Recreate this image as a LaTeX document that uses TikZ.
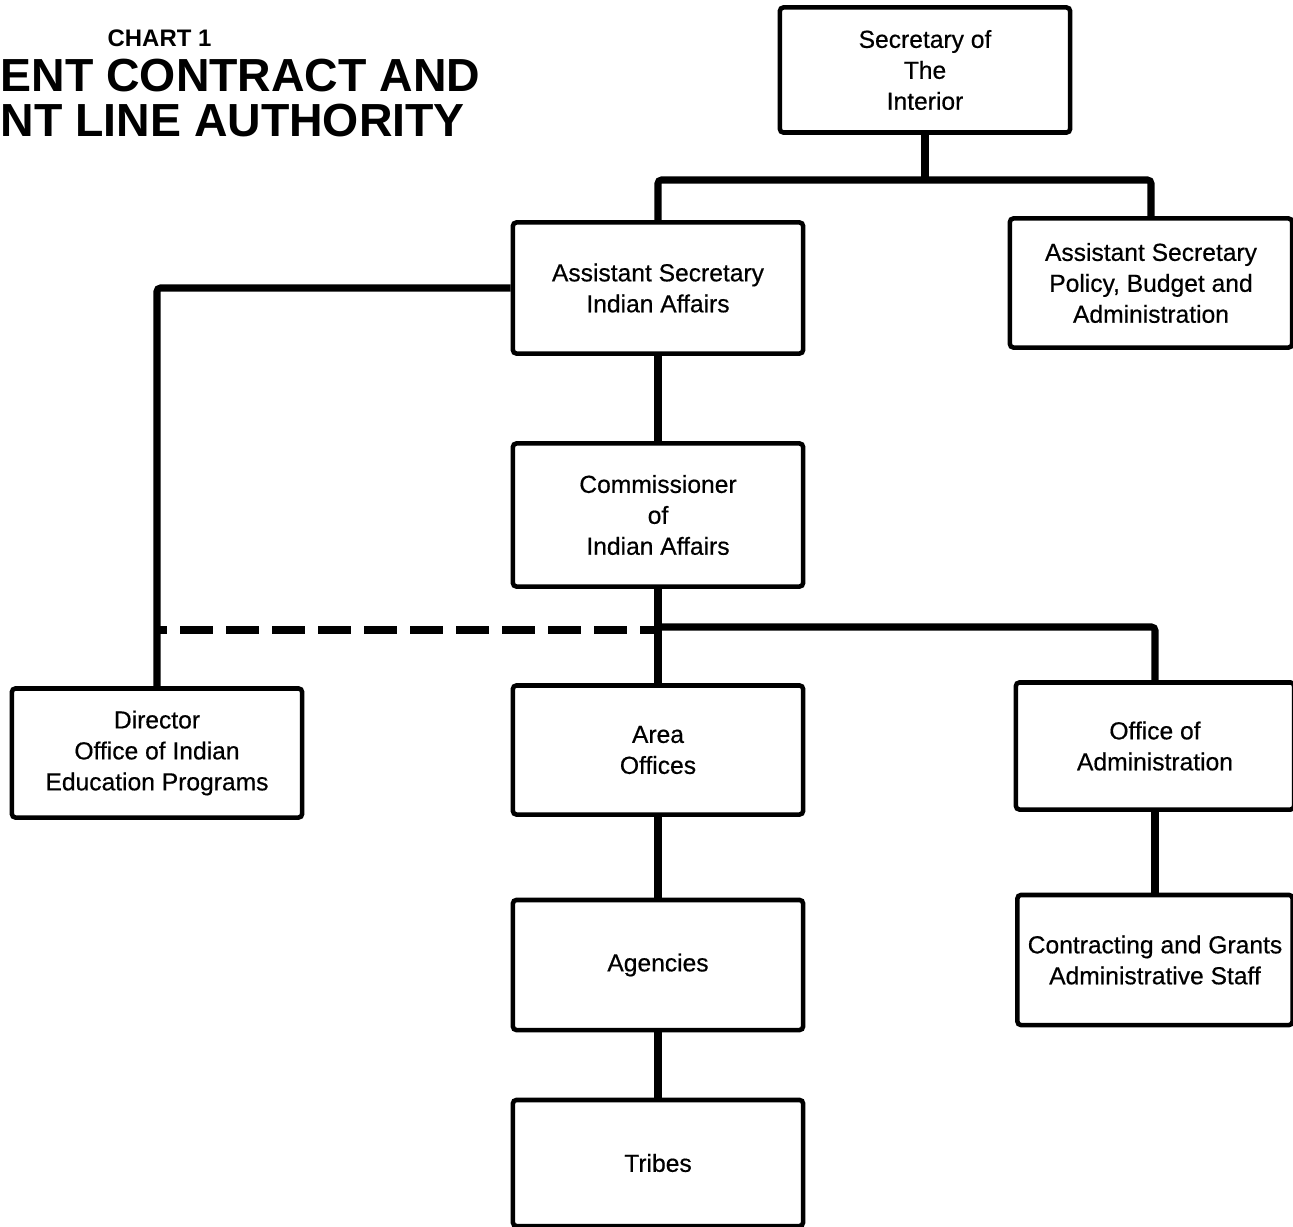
\documentclass[tikz,border=0pt]{standalone}
\usepackage{fontspec}
\setmainfont{Liberation Sans}
\newfontfamily\boxfont[FakeBold=0.5]{Liberation Sans}
\usetikzlibrary{positioning}

\tikzset{
  orgbox/.style={draw, line width=1.3pt, rounded corners=1pt, align=center,
    minimum width=2.9cm, minimum height=1.29cm, inner sep=0pt,
    font=\boxfont\fontsize{7}{8.8}\selectfont},
  orgline/.style={line width=2pt, rounded corners=1pt},
  staffline/.style={line width=2pt, dash pattern=on 0.33cm off 0.13cm, dash phase=0.23cm},
}

\begin{document}
\begin{tikzpicture}[x=0.01cm, y=0.01cm]
                \useasboundingbox (0,0) rectangle (1293,1226);

                % Title
                \node[font=\bfseries\fontsize{6.8}{8}\selectfont, anchor=base west, inner sep=0pt] (chart) at (107,1179) {CHART 1};
                \node[font=\bfseries\fontsize{13.2}{15}\selectfont, anchor=base west, inner sep=0pt] (titleA) at (0,1134) {ENT CONTRACT AND};
                \node[font=\bfseries\fontsize{13.2}{15}\selectfont, anchor=base west, inner sep=0pt] (titleB) at (0,1089) {NT LINE AUTHORITY};

                % Boxes
                \node[orgbox, minimum height=1.25cm] (sec) at (925,1156) {Secretary of\\The\\Interior};
                \node[orgbox, minimum height=1.31cm] (iaf) at (658,938) {Assistant Secretary\\Indian Affairs};
                \node[orgbox, minimum width=2.82cm] (pba) at (1151,943) {Assistant Secretary\\Policy, Budget and\\Administration};
                \node[orgbox, minimum height=1.43cm] (com) at (658,711) {Commissioner\\of\\Indian Affairs};
                \node[orgbox] (dir) at (157,473) {Director\\Office of Indian\\Education Programs};
                \node[orgbox] (area) at (658,476) {Area\\Offices};
                \node[orgbox, minimum width=2.78cm, minimum height=1.27cm] (oadm) at (1155,480) {Office of\\Administration};
                \node[orgbox, minimum height=1.3cm] (agen) at (658,261) {Agencies};
                \node[orgbox, minimum width=2.75cm, minimum height=1.3cm] (cgas) at (1155,266) {Contracting and Grants\\Administrative Staff};
                \node[orgbox, minimum height=1.26cm] (trib) at (658,63) {Tribes};

                % Line authority
                \coordinate (topbar) at (0,1046);
                \coordinate (midbar) at (0,599);
                \coordinate (stafbar) at (0,596);
                \draw[orgline] (sec.south) -- (sec.south |- topbar);
                \draw[orgline] (iaf.north) |- (pba.north |- topbar) -- (pba.north);
                \draw[orgline] (iaf.west) -| (dir.north);
                \draw[orgline] (iaf.south) -- (com.north);
                \draw[orgline] (com.south) -- (area.north);
                \draw[orgline] (area.north |- midbar) -| (oadm.north);
                \draw[orgline] (area.south) -- (agen.north);
                \draw[orgline] (agen.south) -- (trib.north);
                \draw[orgline] (oadm.south) -- (cgas.north);

                % Staff line
                \draw[staffline] (dir.north |- stafbar) -- (area.north |- stafbar);
            \end{tikzpicture}
\end{document}
